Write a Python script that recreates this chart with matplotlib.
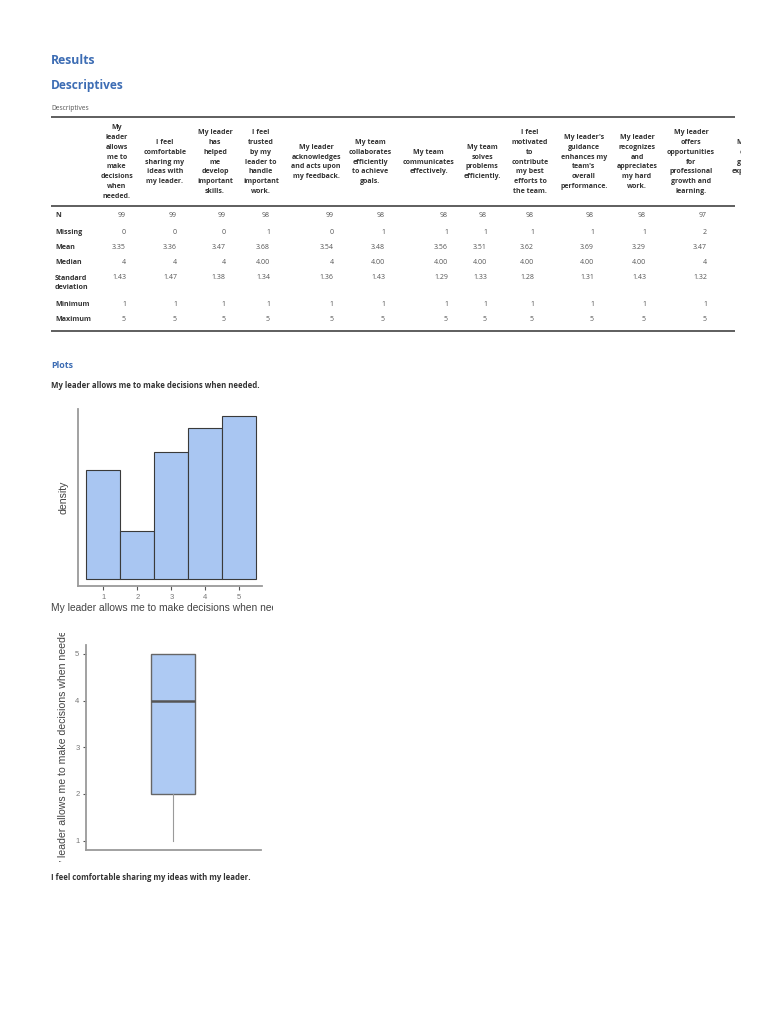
import numpy as np
import matplotlib
matplotlib.use('Agg')
import matplotlib.pyplot as plt

header_labels = [
    'My\nleader\nallows\nme to\nmake\ndecisions\nwhen\nneeded.',
    'I feel\ncomfortable\nsharing my\nideas with\nmy leader.',
    'My leader\nhas\nhelped\nme\ndevelop\nimportant\nskills.',
    'I feel\ntrusted\nby my\nleader to\nhandle\nimportant\nwork.',
    'My leader\nacknowledges\nand acts upon\nmy feedback.',
    'My team\ncollaborates\nefficiently\nto achieve\ngoals.',
    'My team\ncommunicates\neffectively.',
    'My team\nsolves\nproblems\nefficiently.',
    'I feel\nmotivated\nto\ncontribute\nmy best\nefforts to\nthe team.',
    "My leader's\nguidance\nenhances my\nteam's\noverall\nperformance.",
    'My leader\nrecognizes\nand\nappreciates\nmy hard\nwork.',
    'My leader\noffers\nopportunities\nfor\nprofessional\ngrowth and\nlearning.',
    'My leader\nconveys\ngoals and\nexpectations\nwell.',
]
row_names = ['N', 'Missing', 'Mean', 'Median', 'Standard\ndeviation', 'Minimum', 'Maximum']
n_vals = ['99', '99', '99', '98', '99', '98', '98', '98', '98', '98', '98', '97']
missing_vals = ['0', '0', '0', '1', '0', '1', '1', '1', '1', '1', '1', '2']
mean_vals = ['3.35', '3.36', '3.47', '3.68', '3.54', '3.48', '3.56', '3.51', '3.62', '3.69', '3.29', '3.47']
median_vals = ['4', '4', '4', '4.00', '4', '4.00', '4.00', '4.00', '4.00', '4.00', '4.00', '4']
sd_vals = ['1.43', '1.47', '1.38', '1.34', '1.36', '1.43', '1.29', '1.33', '1.28', '1.31', '1.43', '1.32']
min_vals = ['1'] * 12
max_vals = ['5'] * 12
table_rows = [n_vals, missing_vals, mean_vals, median_vals, sd_vals, min_vals, max_vals]

levels = [1, 2, 3, 4, 5]
counts = [18, 8, 21, 25, 27]
item1 = 'My leader allows me to make decisions when needed.'
item2 = 'I feel comfortable sharing my ideas with my leader.'

# ---- layout (pixels) ----
W, H = 768, 1024
BLUE = '#3d6db4'
UI = ['Open Sans', 'DejaVu Sans']
PLOT = ['Liberation Sans', 'DejaVu Sans']
FILL = '#a9c6f2'

head_x = [116.7, 165, 215, 261, 316, 370.5, 428.5, 482, 530, 584, 637, 691, 754]
val_x = [126, 177, 225.7, 270, 333.7, 385, 448, 487, 534, 594, 646, 707]
row_y = [215.5, 232, 247.5, 262.5, 283, 304.5, 319.5]

fig = plt.figure(figsize=(W / 100, H / 100), dpi=100)


def px_axes(x0, y0, x1, y1):
    return fig.add_axes([x0 / W, 1 - y1 / H, (x1 - x0) / W, (y1 - y0) / H])


page = px_axes(0, 0, 741, H)
page.set_xlim(0, 741)
page.set_ylim(H, 0)
page.axis('off')

page.text(51, 61, 'Results', color=BLUE, fontsize=8.8, fontweight='bold', family=UI, va='center')
page.text(51, 86, 'Descriptives', color=BLUE, fontsize=8.6, fontweight='bold', family=UI, va='center')
page.text(51, 108, 'Descriptives', color='#555555', fontsize=4.8, family=UI, va='center')

for y in [117, 206, 331]:
    page.plot([51, 735], [y, y], color='#333333', lw=1.1, solid_capstyle='butt')

for x, lab in zip(head_x, header_labels):
    page.text(x, 162, lab, ha='center', va='center', fontsize=5.0, fontweight='bold',
              family=UI, color='#333333', linespacing=1.56, clip_on=True)

for y, name, vals in zip(row_y, row_names, table_rows):
    page.text(55, y, name, ha='left', va='center', fontsize=5.1, fontweight='bold',
              family=UI, color='#333333', linespacing=1.5)
    vy = y - 5.5 if '\n' in name else y
    for x, v in zip(val_x, vals):
        page.text(x, vy, v, ha='right', va='center', fontsize=5.0, family=UI, color='#555555')

page.text(51, 366, 'Plots', color=BLUE, fontsize=6.4, fontweight='bold', family=UI, va='center')
page.text(51, 385, item1, color='#333333', fontsize=5.6, fontweight='bold', family=UI, va='center')
page.text(51, 877, item2, color='#333333', fontsize=5.6, fontweight='bold', family=UI, va='center')

# ---- histogram ----
ax = px_axes(77.7, 409, 262, 586)
ax.bar(levels, counts, width=1, color=FILL, edgecolor='#3a3a3a', linewidth=0.8)
ax.set_xlim(0.247, 5.668)
ax.set_ylim(-1.16, 28.2)
for s in ['top', 'right']:
    ax.spines[s].set_visible(False)
for s in ['left', 'bottom']:
    ax.spines[s].set_color('#9a9a9a')
    ax.spines[s].set_linewidth(1.3)
ax.set_yticks([])
ax.set_xticks(levels)
ax.tick_params(axis='x', length=3, width=0.8, color='#555555', labelsize=5.5,
               labelcolor='#777777', pad=2.5)
for t in ax.get_xticklabels():
    t.set_family(PLOT)

lab_ax = px_axes(48, 395, 273, 620)
lab_ax.set_xlim(48, 273)
lab_ax.set_ylim(620, 395)
lab_ax.axis('off')
lab_ax.text(51, 608, item1, ha='left', va='center', fontsize=7.35, family=PLOT,
            color='#444444', clip_on=True)
lab_ax.text(63.5, 497, 'density', ha='center', va='center', rotation=90, fontsize=7.6,
            family=PLOT, color='#444444', clip_on=True)

# ---- box plot ----
bx = px_axes(85.7, 645, 260.7, 850)
values = np.repeat(levels, counts)
bp = bx.boxplot(values, positions=[1], widths=0.249, patch_artist=True, showcaps=False,
                showfliers=False)
for b in bp['boxes']:
    b.set_facecolor('#aecaf3')
    b.set_edgecolor('#666666')
    b.set_linewidth(1.0)
for m in bp['medians']:
    m.set_color('#555555')
    m.set_linewidth(1.8)
for w in bp['whiskers']:
    w.set_color('#9a9a9a')
    w.set_linewidth(0.8)
bx.set_xlim(0.5, 1.5)
bx.set_ylim(0.8, 5.19)
for s in ['top', 'right']:
    bx.spines[s].set_visible(False)
for s in ['left', 'bottom']:
    bx.spines[s].set_color('#9a9a9a')
    bx.spines[s].set_linewidth(1.3)
bx.set_xticks([])
bx.set_yticks(levels)
bx.tick_params(axis='y', length=2.5, width=0.8, color='#555555', labelsize=5.5,
               labelcolor='#777777', pad=2)
for t in bx.get_yticklabels():
    t.set_family(PLOT)

lab_bx = px_axes(48, 633, 273, 862)
lab_bx.set_xlim(48, 273)
lab_bx.set_ylim(862, 633)
lab_bx.axis('off')
lab_bx.text(63.5, 747.5, item1, ha='center', va='center', rotation=90, fontsize=7.6,
            family=PLOT, color='#444444', clip_on=True)

fig.savefig('out.png', dpi=100, facecolor='white')
